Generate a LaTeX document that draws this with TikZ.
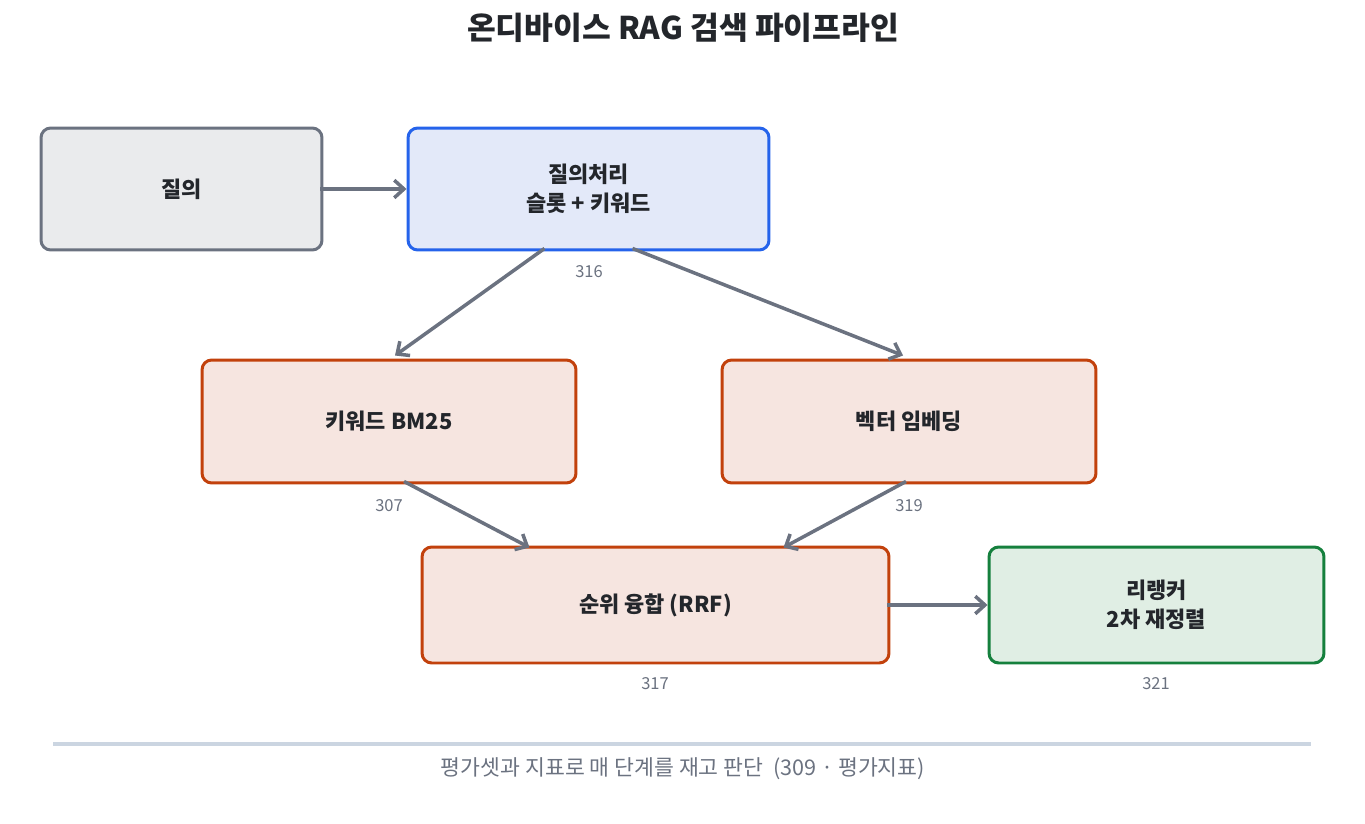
\documentclass[tikz,border=0pt]{standalone}
\usepackage{fontspec}
\setmainfont{Noto Sans CJK KR}
\usetikzlibrary{positioning,arrows.meta,calc}

\definecolor{inkdark}{HTML}{23262B}
\definecolor{inkgray}{HTML}{6B7280}
\definecolor{rulegray}{HTML}{CBD5E1}
\definecolor{qfill}{HTML}{EAEBED}
\definecolor{bline}{HTML}{2563EB}
\definecolor{bfill}{HTML}{E3E9F9}
\definecolor{oline}{HTML}{C2410C}
\definecolor{ofill}{HTML}{F6E5E0}
\definecolor{gline}{HTML}{15803D}
\definecolor{gfill}{HTML}{E0EEE4}

\begin{document}
\begin{tikzpicture}[x=0.02cm, y=-0.02cm,
    box/.style={draw, line width=1.7pt, rounded corners=5.5pt, align=center,
      font=\fontsize{12.5}{16.4}\selectfont\bfseries, text=inkdark},
    numlbl/.style={font=\fontsize{9.4}{11}\selectfont, text=inkgray},
    flow/.style={-{Straight Barb[length=5.5pt,width=10pt]}, line width=2pt, inkgray}]
%
    \useasboundingbox (0,0) rectangle (1365,824);
%
    \node[font=\fontsize{17.8}{21}\selectfont\bfseries, text=inkdark] (title) at (683,28)
      {온디바이스 RAG 검색 파이프라인};
%
    \node[box, draw=inkgray, fill=qfill, minimum width=5.62cm, minimum height=2.44cm] (query) at (181.5,189) {질의};
    \node[box, draw=bline, fill=bfill, minimum width=7.22cm, minimum height=2.44cm] (proc) at (588.5,189) {질의처리\\슬롯 + 키워드};
    \node[box, draw=oline, fill=ofill, minimum width=7.48cm, minimum height=2.46cm] (bm) at (389,421.5) {키워드 BM25};
    \node[box, draw=oline, fill=ofill, minimum width=7.48cm, minimum height=2.46cm] (vec) at (909,421.5) {벡터 임베딩};
    \node[box, draw=oline, fill=ofill, minimum width=9.34cm, minimum height=2.32cm] (rrf) at (655.5,605) {순위 융합 (RRF)};
    \node[box, draw=gline, fill=gfill, minimum width=6.70cm, minimum height=2.32cm] (rerank) at (1156.5,605) {리랭커\\2차 재정렬};
%
    \node[numlbl] (nproc) at (589,272) {316};
    \node[numlbl] (nbm) at (389,506) {307};
    \node[numlbl] (nvec) at (909,506) {319};
    \node[numlbl] (nrrf) at (655,684) {317};
    \node[numlbl] (nrerank) at (1156,684) {321};
%
    \draw[flow] ($(query.east)+(-3,0)$) -- (proc.west);
    \draw[flow] ($(proc.south)+(-44,-3)$) -- ($(bm.north)+(6,-3)$);
    \draw[flow] ($(proc.south)+(44,-3)$) -- ($(vec.north)+(-6,-3)$);
    \draw[flow] ($(bm.south)+(15,-3)$) -- ($(rrf.north)+(-126,2)$);
    \draw[flow] ($(vec.south)+(-3,-3)$) -- ($(rrf.north)+(128,2)$);
    \draw[flow] ($(rrf.east)+(-3,0)$) -- (rerank.west);
%
    \draw[rulegray, line width=2.3pt] (53,744) coordinate (rl) -- (1311,744) coordinate (rr);
    \node[font=\fontsize{12.3}{14}\selectfont, text=inkgray] (foot) at (683,769)
      {평가셋과 지표로 매 단계를 재고 판단 ~(309 · 평가지표)};
\end{tikzpicture}
\end{document}
